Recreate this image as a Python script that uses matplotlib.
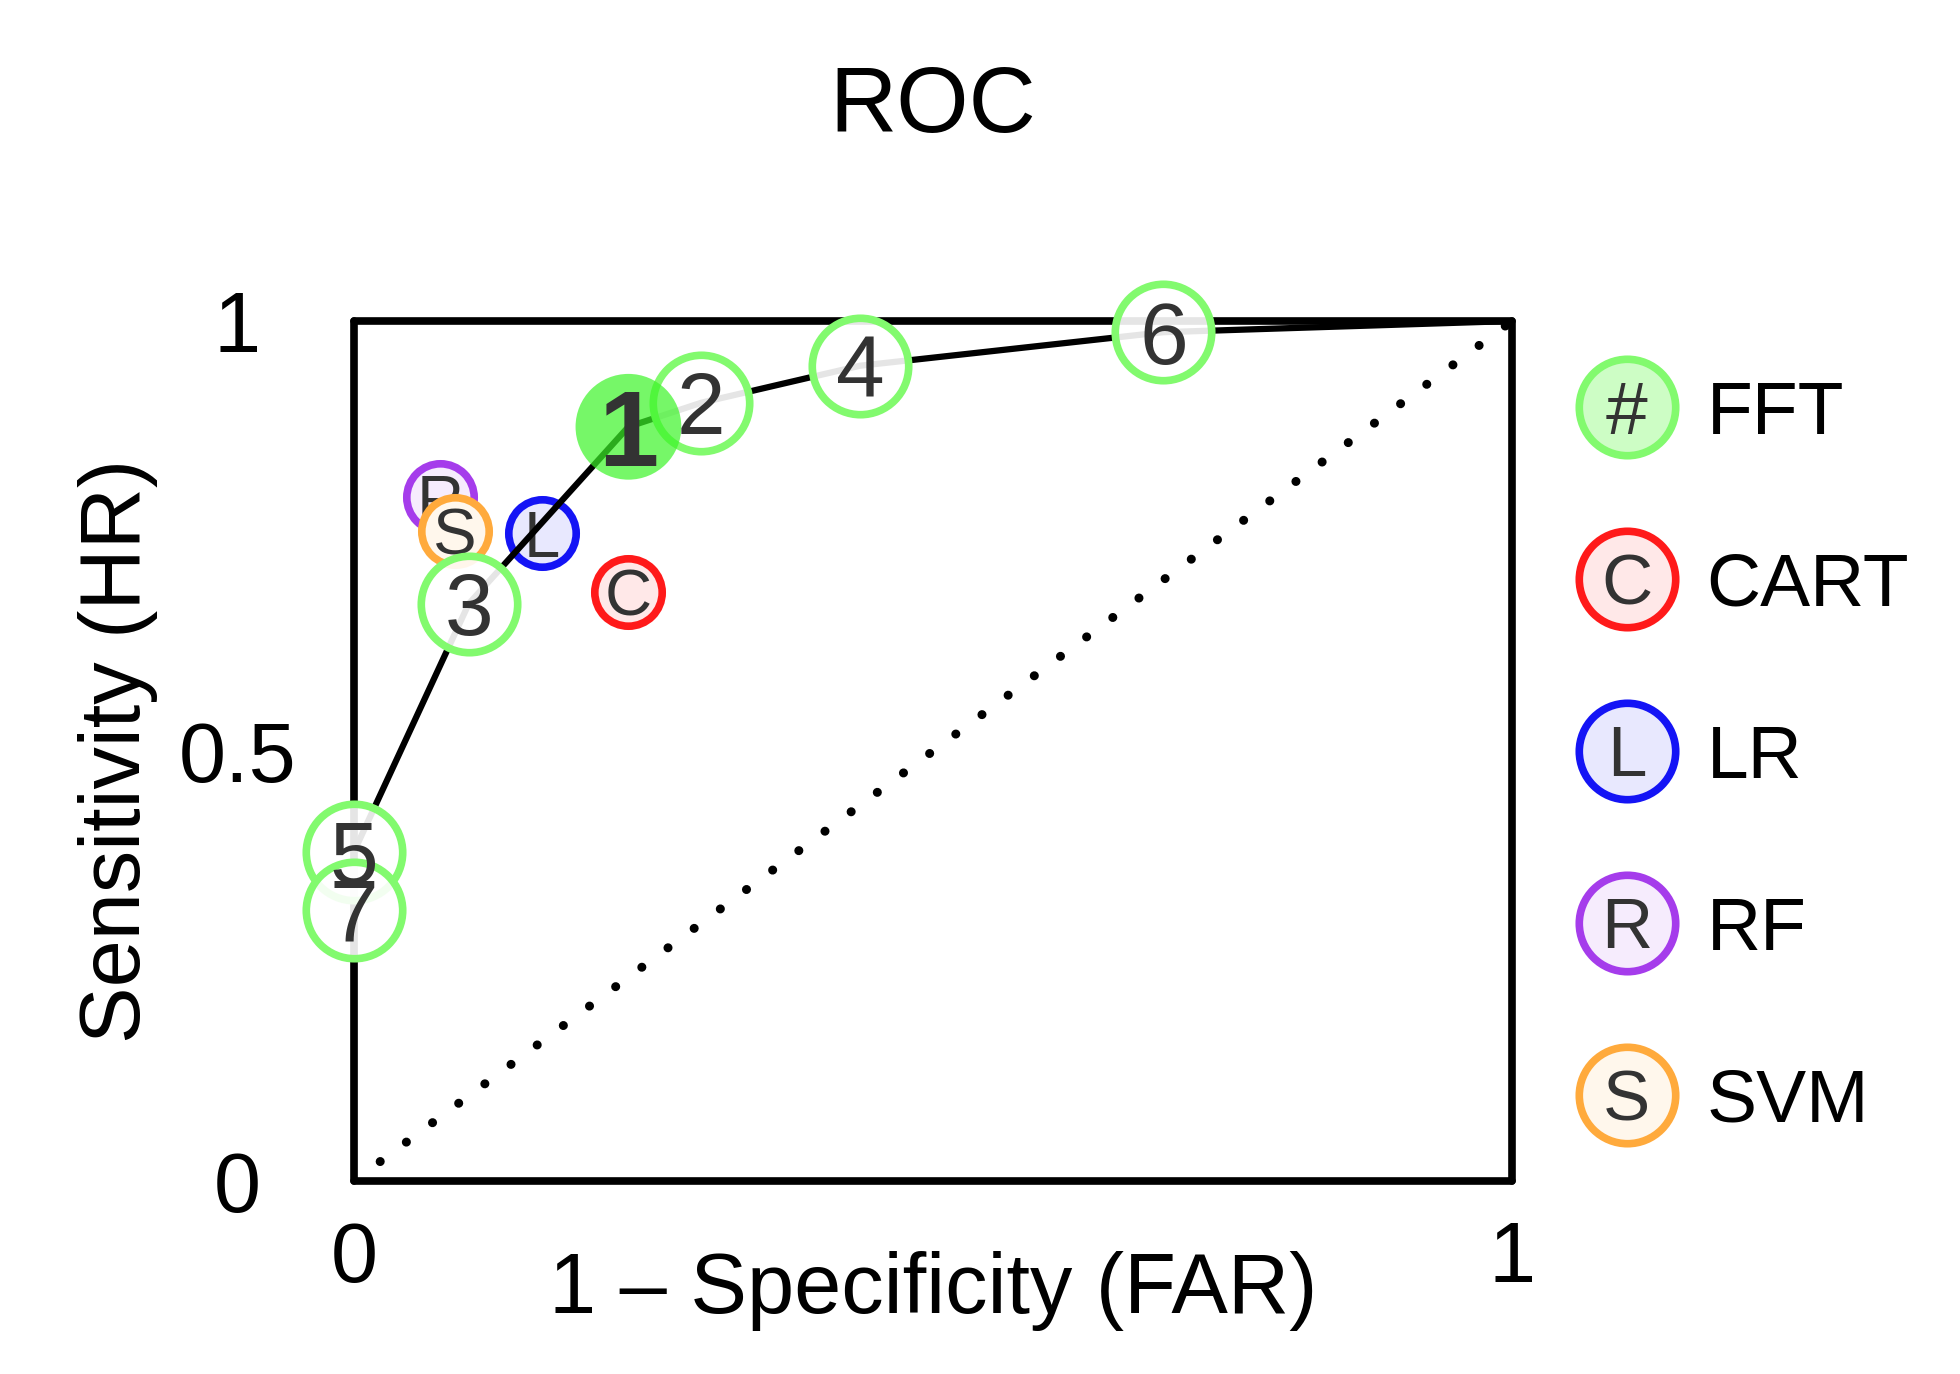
import numpy as np
import matplotlib
matplotlib.use("Agg")
from matplotlib import pyplot as plt

plt.rcParams['font.family'] = ['Liberation Sans', 'DejaVu Sans']

# FFT trees (far = 1 - specificity, hr = sensitivity)
fft_labels = ["1", "2", "3", "4", "5", "6", "7"]
fft_far = [0.237, 0.300, 0.099, 0.437, 0.000, 0.699, 0.000]
fft_hr = [0.877, 0.905, 0.671, 0.948, 0.383, 0.987, 0.315]

# competing algorithms
comp_names = ["CART", "LR", "RF", "SVM"]
comp_letters = ["C", "L", "R", "S"]
comp_far = [0.237, 0.162, 0.074, 0.087]
comp_hr = [0.685, 0.753, 0.795, 0.756]
comp_colors = ["#FF1A1A", "#1414F5", "#A53CEB", "#FFAA3C"]

fft_color = "#82FA6E"
text_gray = "#333333"


def tint(col, a):
    # colour mixed with white, opaque
    rgb = np.array(matplotlib.colors.to_rgb(col))
    return tuple(rgb * a + (1 - a))


def label_in_circle(ax, txt, x, y, fs, weight="normal", z=10, color=text_gray):
    ax.annotate(txt, (x, y), xytext=(0, -0.36 * fs), textcoords="offset points",
                ha="center", va="baseline", fontsize=fs, color=color,
                fontweight=weight, zorder=z, annotation_clip=False)


fig = plt.figure(figsize=(19.6, 13.74), dpi=100)
ax = fig.add_axes([354 / 1960, 1 - 1181 / 1374, 1158 / 1960, 860 / 1374])
ax.set_xlim(0, 1)
ax.set_ylim(0, 1)

# chance line
ax.plot([0, 1], [0, 1], color="black", lw=6.5, linestyle=(0, (0.01, 3.6)),
        dash_capstyle="round", zorder=1)

# competitors (drawn below the ROC line)
for i in range(len(comp_names)):
    ax.scatter(comp_far[i], comp_hr[i], s=2355, facecolor=tint(comp_colors[i], 0.1),
               edgecolor=comp_colors[i], linewidths=5.5, zorder=2 + i * 0.1, clip_on=False)
    label_in_circle(ax, comp_letters[i], comp_far[i], comp_hr[i], 47, z=2.05 + i * 0.1)

# ROC line of FFTs
far = np.array(fft_far)
hr = np.array(fft_hr)
order = np.lexsort((hr, far))
roc_x = np.concatenate([[0], far[order], [1]])
roc_y = np.concatenate([[0], hr[order], [1]])
ax.plot(roc_x, roc_y, color="black", lw=4.5, zorder=3, solid_capstyle="round")

# FFT circles
for i in range(1, len(fft_labels)):
    ax.scatter(fft_far[i], fft_hr[i], s=4820, facecolor=(1, 1, 1, 0.9),
               edgecolor=fft_color, linewidths=5.5, zorder=4, clip_on=False)
ax.scatter(fft_far[0], fft_hr[0], s=5800, facecolor="#3CF528", alpha=0.7,
           edgecolor="none", zorder=5, clip_on=False)

for i in range(1, len(fft_labels)):
    label_in_circle(ax, fft_labels[i], fft_far[i], fft_hr[i], 63, z=6)
label_in_circle(ax, fft_labels[0], fft_far[0], fft_hr[0], 78, weight="bold", z=6)

# legend on the right
leg_names = ["FFT"] + comp_names
leg_letters = ["#"] + comp_letters
leg_colors = [fft_color] + comp_colors
leg_alpha = [0.4, 0.1, 0.1, 0.1, 0.1]
leg_y = [0.9, 0.7, 0.5, 0.3, 0.1]
for i in range(len(leg_names)):
    ax.scatter(1.099, leg_y[i], s=4820, facecolor=tint(leg_colors[i], leg_alpha[i]),
               edgecolor=leg_colors[i], linewidths=5.5, zorder=7, clip_on=False)
    label_in_circle(ax, leg_letters[i], 1.099, leg_y[i], 54 if i == 0 else 51, z=8)
    ax.annotate(leg_names[i], (1.168, leg_y[i]), xytext=(0, -0.36 * 54),
                textcoords="offset points", ha="left", va="baseline",
                fontsize=54, color="black", annotation_clip=False)

# axes styling
for sp in ax.spines.values():
    sp.set_linewidth(5.5)
    sp.set_color("black")
    sp.set_zorder(0.5)
    sp.set_capstyle("round")

ax.set_xticks([0, 1])
ax.set_xticklabels(["0", "1"])
ax.set_yticks([0, 0.5, 1])
ax.set_yticklabels(["0", "0.5", "1"])
ax.tick_params(axis="both", length=0, labelsize=61)
ax.tick_params(axis="x", pad=28)
ax.tick_params(axis="y", pad=84)
for lab in ax.get_yticklabels():
    lab.set_horizontalalignment("center")

ax.set_title("ROC", fontsize=67, pad=136)
ax.set_xlabel("1 \u2013 Specificity (FAR)", fontsize=61)
ax.xaxis.set_label_coords(0.5, -0.1535)
ax.xaxis.label.set_va("baseline")
ax.set_ylabel("Sensitivity (HR)", fontsize=61)
ax.yaxis.set_label_coords(-0.1848, 0.5)
ax.yaxis.label.set_va("baseline")

fig.savefig("out.png", dpi=100)
